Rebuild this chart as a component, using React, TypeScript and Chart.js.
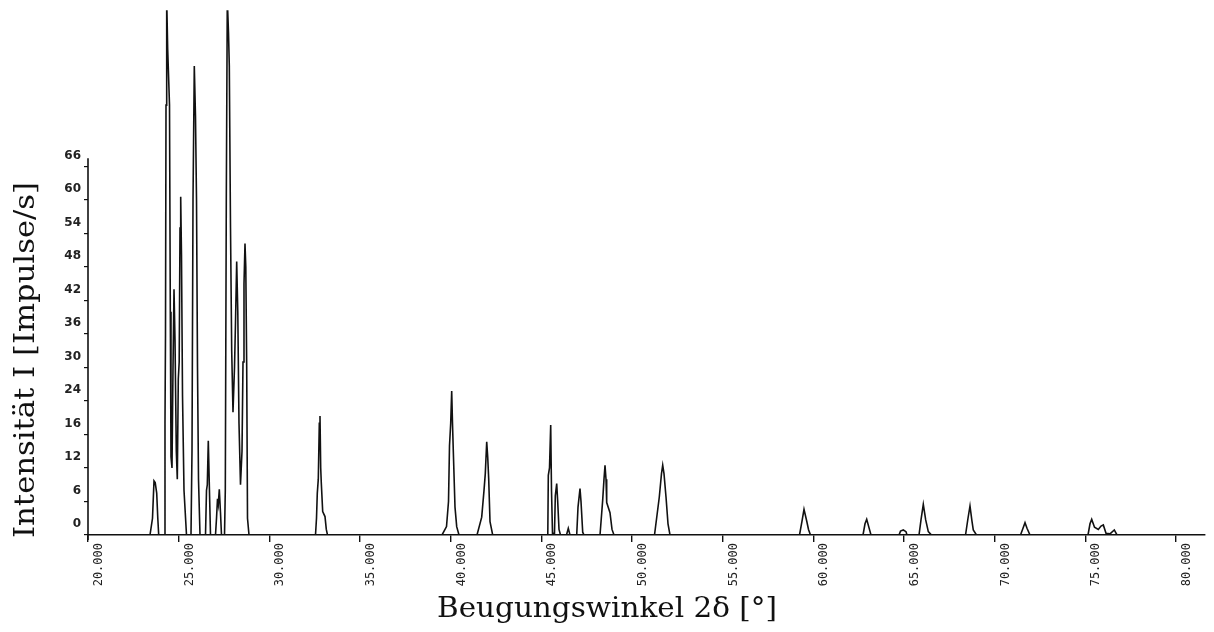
import React, { useEffect, useRef } from "react";
import { Chart, registerables } from "chart.js";

Chart.register(...registerables);

// ---------- data ----------
const xTickValues = [20, 25, 30, 35, 40, 45, 50, 55, 60, 65, 70, 75, 80];
const xTickLabels = ["20.000", "25.000", "30.000", "35.000", "40.000", "45.000", "50.000", "55.000", "60.000", "65.000", "70.000", "75.000", "80.000"];
const yTickValues = [0, 6, 12, 18, 24, 30, 36, 42, 48, 54, 60, 66];
const yTickLabels = ["0", "6", "12", "16", "24", "30", "36", "42", "48", "54", "60", "66"];
const xTitle = "Beugungswinkel 2δ [°]";
const yTitle = "Intensität I [Impulse/s]";

const edgeAngles = [20, 81.6];

const clusterAngles = [
  23.419, 23.557, 23.64, 23.706, 23.789, 23.849, 23.899,
  24.219, 24.246, 24.274, 24.302, 24.34, 24.395, 24.495, 24.539, 24.577, 24.632, 24.688, 24.743, 24.798, 24.87, 24.925, 24.98, 25.029, 25.074, 25.112, 25.156, 25.212, 25.294, 25.432,
  25.68, 25.735, 25.791, 25.862, 25.928, 25.984, 26.039, 26.094, 26.177,
  26.48, 26.535, 26.579, 26.634, 26.69, 26.756,
  27.031, 27.087, 27.142, 27.186, 27.241, 27.307, 27.362,
  27.528, 27.572, 27.627, 27.682, 27.748, 27.793, 27.859, 27.925, 27.996, 28.079, 28.134, 28.2, 28.261, 28.327, 28.41, 28.493, 28.548, 28.603, 28.658, 28.702, 28.752, 28.796, 28.879,
];
const clusterCounts = [
  0, 3, 9.7, 9.4, 7.5, 3, 0,
  0, 20, 36, 77, 96, 87, 77, 40, 14, 12, 30, 44, 35, 15, 10, 28, 31, 55, 60.6, 50, 25, 8, 0,
  0, 15, 60, 84, 75, 60, 30, 10, 0,
  0, 8, 9, 16.9, 9, 0,
  0, 3, 6.5, 5.5, 8.2, 4, 0,
  0, 8, 60, 96, 90, 84, 55, 33, 22, 30, 38, 49, 40, 20, 9, 15, 31, 45, 52.2, 48, 30, 3, 0,
];

const midAngles = [
  32.546, 32.601, 32.645, 32.7, 32.756, 32.794, 32.833, 32.866, 32.943, 33.07, 33.142, 33.208,
  39.522, 39.771, 39.881, 39.936, 40.002, 40.057, 40.101, 40.146, 40.239, 40.333, 40.46,
  41.453, 41.712, 41.839, 41.91, 41.988, 42.043, 42.098, 42.17, 42.318,
  45.357, 45.385, 45.451, 45.517, 45.561, 45.616, 45.726, 45.771, 45.848, 45.903, 45.975, 46.057, 46.388, 46.487, 46.581,
  46.951, 47.023, 47.133, 47.188, 47.282, 47.353,
  48.236, 48.385, 48.456, 48.512, 48.567, 48.605, 48.787, 48.898, 49.008,
  51.241, 51.506, 51.627, 51.694, 51.765, 51.876, 51.986, 52.096,
];
const midCounts = [
  0, 3, 7.5, 10, 20, 21.3, 12, 9.3, 4.2, 3.3, 1, 0,
  0, 1.5, 6, 16, 20, 25.8, 20, 15, 5, 1.5, 0,
  0, 3.2, 8, 11, 16.7, 14, 10, 2.4, 0,
  0, 10.7, 12, 19.7, 8, 0.3, 0.3, 7, 9.2, 6, 1, 0, 0, 1.2, 0,
  0, 5, 8.3, 6, 0.5, 0,
  0, 6.3, 10, 12.5, 10, 5.8, 4, 1, 0,
  0, 6.8, 11, 12.5, 11, 6.8, 2, 0,
];

const highAngles = [
  59.238, 59.376, 59.486, 59.635, 59.734, 59.844,
  62.74, 62.85, 62.944, 63.054, 63.181,
  64.725, 64.808, 64.962, 65.111, 65.166,
  65.828, 65.938, 66.065, 66.197, 66.341, 66.517,
  68.393, 68.53, 68.64, 68.749, 68.821, 68.999,
  71.426, 71.563, 71.674, 71.784, 71.949,
  75.148, 75.258, 75.352, 75.507, 75.716, 75.865, 75.992, 76.141, 76.361, 76.598, 76.747,
];
const highCounts = [
  0, 2.5, 4.6, 2.5, 1, 0,
  0, 2, 2.8, 1.5, 0,
  0, 0.7, 0.9, 0.6, 0,
  0, 2.7, 5.5, 2.7, 0.6, 0,
  0, 3, 5.2, 2.5, 0.9, 0,
  0, 1.2, 2.2, 1.2, 0,
  0, 2, 2.8, 1.4, 1.0, 1.6, 1.8, 0.3, 0.2, 0.9, 0,
];

// ---------- helpers ----------
function zipPoints(xs: number[], ys: number[]) {
  return xs.map((x, i) => ({ x, y: ys[i] }));
}

const tracePoints = [
  { x: edgeAngles[0], y: 0 },
  ...zipPoints(clusterAngles, clusterCounts),
  ...zipPoints(midAngles, midCounts),
  ...zipPoints(highAngles, highCounts),
  { x: edgeAngles[1], y: 0 },
];

const INK = "#111111";

const decorPlugin = {
  id: "decor",
  afterDraw(chart: any) {
    const { ctx, chartArea } = chart;
    const y = chart.scales.y;
    ctx.save();
    // y axis line only up to the last labelled tick
    ctx.strokeStyle = INK;
    ctx.lineWidth = 1.6;
    ctx.beginPath();
    ctx.moveTo(chartArea.left, y.getPixelForValue(67.5));
    ctx.lineTo(chartArea.left, y.getPixelForValue(-0.9));
    ctx.stroke();

    ctx.fillStyle = INK;
    ctx.textAlign = "left";
    ctx.textBaseline = "alphabetic";

    // x title
    ctx.font = "28px 'DejaVu Serif'";
    const wx = ctx.measureText(xTitle).width;
    const sx = 340 / wx;
    ctx.save();
    ctx.translate(437, 617);
    ctx.scale(sx, 1);
    ctx.fillText(xTitle, 0, 0);
    ctx.restore();

    // y title
    ctx.font = "28px 'DejaVu Serif'";
    const wy = ctx.measureText(yTitle).width;
    const sy = 356 / wy;
    ctx.save();
    ctx.translate(34, 538);
    ctx.rotate(-Math.PI / 2);
    ctx.scale(sy, 1);
    ctx.fillText(yTitle, 0, 0);
    ctx.restore();

    ctx.restore();
  },
};

export default function App() {
  const ref = useRef<HTMLCanvasElement | null>(null);

  useEffect(() => {
    if (!ref.current) return;
    const chart = new Chart(ref.current, {
      type: "line",
      data: {
        datasets: [
          {
            data: tracePoints,
            borderColor: INK,
            borderWidth: 1.6,
            pointRadius: 0,
            tension: 0,
            fill: false,
          },
        ],
      },
      options: {
        responsive: false,
        animation: false,
        parsing: true,
        layout: { padding: { left: 0, right: 9, top: 8, bottom: 0 } },
        plugins: {
          legend: { display: false },
          tooltip: { enabled: false },
          title: { display: false },
        },
        scales: {
          x: {
            type: "linear",
            min: 20,
            max: 81.6,
            afterFit: (s: any) => {
              s.height = 97;
            },
            afterBuildTicks: (s: any) => {
              s.ticks = xTickValues.map((v) => ({ value: v }));
            },
            grid: {
              display: true,
              drawOnChartArea: false,
              drawTicks: true,
              tickLength: 7,
              color: INK,
              lineWidth: 1.4,
            },
            border: { display: true, color: INK, width: 1.6 },
            ticks: {
              autoSkip: false,
              minRotation: 90,
              maxRotation: 90,
              padding: 1,
              labelOffset: 11,
              color: "#222",
              font: { family: "'DejaVu Sans Mono'", size: 12 },
              callback: (v: any) => {
                const i = xTickValues.indexOf(Number(v));
                return i >= 0 ? xTickLabels[i] : "";
              },
            },
          },
          y: {
            type: "linear",
            min: 0,
            max: 94,
            afterFit: (s: any) => {
              s.width = 88;
            },
            afterBuildTicks: (s: any) => {
              s.ticks = yTickValues.map((v) => ({ value: v }));
            },
            grid: {
              display: true,
              drawOnChartArea: false,
              drawTicks: true,
              tickLength: 4,
              color: INK,
              lineWidth: 1.2,
            },
            border: { display: false },
            ticks: {
              autoSkip: false,
              padding: 3,
              labelOffset: -11,
              color: "#222",
              font: { family: "'DejaVu Sans'", size: 12, weight: "bold" },
              callback: (v: any) => {
                const i = yTickValues.indexOf(Number(v));
                return i >= 0 ? yTickLabels[i] : "";
              },
            },
          },
        },
      },
      plugins: [decorPlugin],
    });
    return () => chart.destroy();
  }, []);

  return (
    <div style={{ position: "fixed", left: 0, top: 0, width: 1214, height: 632, background: "#fff" }}>
      <canvas ref={ref} width={1214} height={632} style={{ display: "block" }} />
    </div>
  );
}
